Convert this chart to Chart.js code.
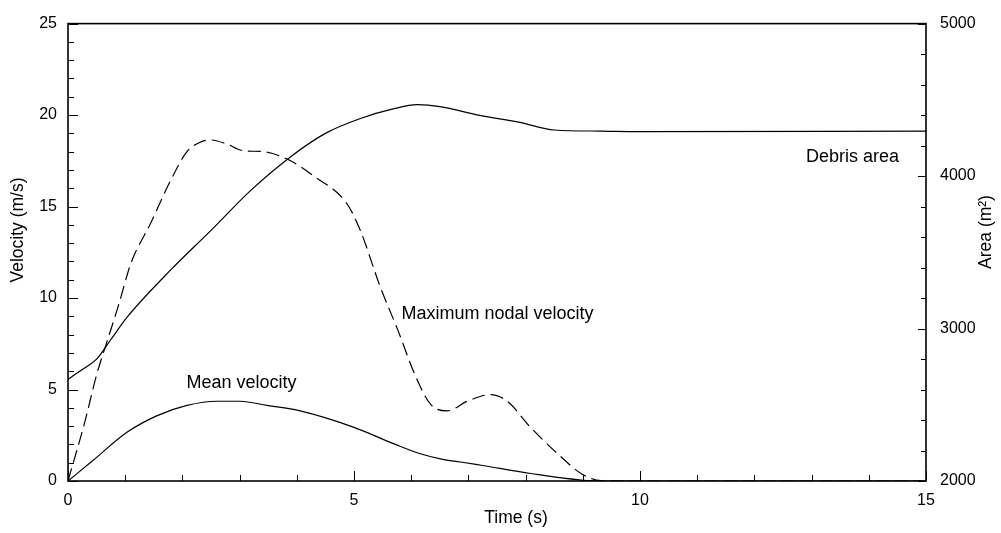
<!DOCTYPE html>
<html>
<head>
<meta charset="utf-8">
<script src="https://cdn.jsdelivr.net/npm/chart.js@4"></script>
<style>
  body { margin: 0; background: #fff; }
  canvas { display: block; }
</style>
</head>
<body>
<canvas id="chart" width="1001" height="533"></canvas>
<script>
// Maximum nodal velocity (dashed, left axis)
const maxTime = [0, 0.3, 0.5, 0.68, 0.88, 1.1, 1.44, 1.79, 2.08, 2.3, 2.49, 2.75, 3.07, 3.42, 3.89, 4.3, 4.88, 5.11, 5.46, 5.76, 6.08, 6.34, 6.63, 6.98, 7.39, 7.68, 8.09, 8.56, 8.97, 9.32, 10, 15];
const maxVel = [0, 3.3, 5.8, 7.6, 9.57, 11.9, 14.06, 16.4, 18.0, 18.5, 18.64, 18.45, 18.05, 18.0, 17.5, 16.66, 15.14, 13.7, 10.6, 8.3, 5.7, 4.19, 3.83, 4.36, 4.72, 4.36, 2.92, 1.49, 0.41, 0.02, 0, 0];

// Mean velocity (solid, left axis)
const meanTime = [0, 0.44, 1.03, 1.55, 2.08, 2.6, 3.01, 3.48, 4.06, 5.0, 5.7, 6.16, 6.57, 6.86, 7.22, 8.09, 8.97, 9.5, 15];
const meanVel = [0, 1.13, 2.66, 3.56, 4.13, 4.36, 4.36, 4.13, 3.83, 2.93, 2.03, 1.49, 1.17, 1.04, 0.86, 0.41, 0.05, 0, 0];

// Debris area (solid, right axis)
const areaTime = [0, 0.25, 0.5, 0.75, 1.03, 1.8, 2.5, 3.2, 3.9, 4.5, 5.1, 5.7, 6.1, 6.5, 7.2, 7.9, 8.5, 9.3, 10, 15];
const areaVals = [2666, 2732, 2799, 2928, 3073, 3386, 3644, 3908, 4129, 4280, 4376, 4442, 4468, 4456, 4398, 4352, 4302, 4295, 4292, 4295];

const xTicks = [0, 5, 10, 15];
const velTicks = [0, 5, 10, 15, 20, 25];
const areaTicks = [2000, 3000, 4000, 5000];

// in-plot labels: [text, time, velocity]
const curveLabels = [
  ["Debris area", 12.9, 17.7],
  ["Maximum nodal velocity", 5.83, 9.1],
  ["Mean velocity", 2.07, 5.33]
];

const FONT = "Liberation Sans, Arial, sans-serif";

function pts(xs, ys) {
  return xs.map((x, i) => ({ x: x, y: ys[i] }));
}

// frame, inward ticks, axis titles and curve labels
const decor = {
  id: "decor",
  afterDraw(chart) {
    const ctx = chart.ctx;
    const a = chart.chartArea;
    const sx = chart.scales.x, sy = chart.scales.y, sy2 = chart.scales.y2;
    ctx.save();
    ctx.strokeStyle = "#000";
    ctx.lineWidth = 1.6;
    ctx.strokeRect(a.left, a.top, a.right - a.left, a.bottom - a.top);

    ctx.lineWidth = 1;
    ctx.beginPath();
    for (let v = 0; v <= 25; v++) {
      const y = Math.round(sy.getPixelForValue(v)) + 0.5;
      const len = v % 5 === 0 ? 10 : 6;
      ctx.moveTo(a.left, y); ctx.lineTo(a.left + len, y);
    }
    for (let v = 2000; v <= 5000; v += 200) {
      const y = Math.round(sy2.getPixelForValue(v)) + 0.5;
      const len = v % 1000 === 0 ? 8 : 5;
      ctx.moveTo(a.right, y); ctx.lineTo(a.right - len, y);
    }
    for (let t = 0; t <= 15; t++) {
      const x = Math.round(sx.getPixelForValue(t)) + 0.5;
      const len = t % 5 === 0 ? 10 : 6;
      ctx.moveTo(x, a.bottom); ctx.lineTo(x, a.bottom - len);
    }
    ctx.stroke();

    ctx.fillStyle = "#000";
    ctx.font = "18px " + FONT;
    ctx.textBaseline = "middle";
    ctx.textAlign = "left";
    curveLabels.forEach(l => {
      ctx.fillText(l[0], sx.getPixelForValue(l[1]), sy.getPixelForValue(l[2]));
    });

    ctx.font = "17.5px " + FONT;
    ctx.textAlign = "center";
    ctx.fillText("Time (s)", 516, 518);

    ctx.save();
    ctx.translate(18, 230);
    ctx.rotate(-Math.PI / 2);
    ctx.fillText("Velocity (m/s)", 0, 0);
    ctx.restore();

    ctx.save();
    ctx.translate(986, 232);
    ctx.rotate(-Math.PI / 2);
    ctx.fillText("Area (m\u00B2)", 0, 0);
    ctx.restore();
    ctx.restore();
  }
};

const tickFont = { family: FONT, size: 16 };

new Chart(document.getElementById("chart"), {
  type: "line",
  data: {
    datasets: [
      {
        label: "Maximum nodal velocity",
        data: pts(maxTime, maxVel),
        yAxisID: "y",
        borderColor: "#000",
        borderWidth: 1.2,
        borderDash: [13, 6],
        pointRadius: 0,
        cubicInterpolationMode: "monotone"
      },
      {
        label: "Mean velocity",
        data: pts(meanTime, meanVel),
        yAxisID: "y",
        borderColor: "#000",
        borderWidth: 1.2,
        pointRadius: 0,
        cubicInterpolationMode: "monotone"
      },
      {
        label: "Debris area",
        data: pts(areaTime, areaVals),
        yAxisID: "y2",
        borderColor: "#000",
        borderWidth: 1.2,
        pointRadius: 0,
        cubicInterpolationMode: "monotone"
      }
    ]
  },
  plugins: [decor],
  options: {
    responsive: false,
    animation: false,
    layout: { padding: { top: 17, left: 0, right: 0, bottom: 0 } },
    plugins: {
      legend: { display: false },
      tooltip: { enabled: false }
    },
    scales: {
      x: {
        type: "linear",
        min: 0,
        max: 15,
        afterBuildTicks: s => { s.ticks = xTicks.map(v => ({ value: v })); },
        ticks: { color: "#000", font: tickFont, padding: 10, maxRotation: 0, callback: v => String(v) },
        grid: { display: false, drawTicks: false },
        border: { display: false },
        afterFit: s => { s.height = 52; }
      },
      y: {
        position: "left",
        min: 0,
        max: 25,
        afterBuildTicks: s => { s.ticks = velTicks.map(v => ({ value: v })); },
        ticks: { color: "#000", font: tickFont, padding: 11, callback: v => String(v) },
        grid: { display: false, drawTicks: false },
        border: { display: false },
        afterFit: s => { s.width = 68; }
      },
      y2: {
        position: "right",
        min: 2000,
        max: 5000,
        afterBuildTicks: s => { s.ticks = areaTicks.map(v => ({ value: v })); },
        ticks: { color: "#000", font: tickFont, padding: 14, callback: v => String(v) },
        grid: { display: false, drawTicks: false },
        border: { display: false },
        afterFit: s => { s.width = 75; }
      }
    }
  }
});
</script>
</body>
</html>
